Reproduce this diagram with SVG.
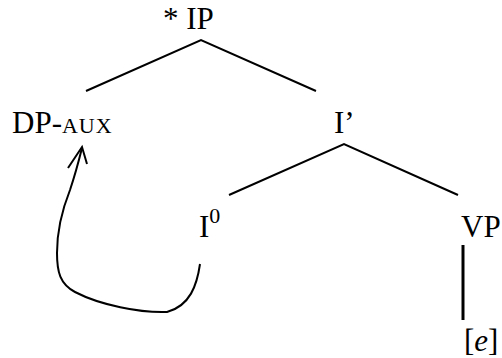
<svg xmlns="http://www.w3.org/2000/svg" width="502" height="358" viewBox="0 0 502 358">
<style>
text{font-family:"Liberation Serif","Times New Roman",serif;font-size:31px;fill:#000}
.sc{font-size:22px;letter-spacing:1px}
.e{stroke:#000;stroke-width:2;fill:none;stroke-linecap:butt}
</style>
<rect width="502" height="358" fill="#fff"/>
<g id="IP"><text x="163" y="29">* IP</text></g>
<g id="DP"><text x="12" y="133">DP-<tspan class="sc">AUX</tspan></text></g>
<g id="Ibar"><text x="334" y="133">I’</text></g>
<g id="I0"><text x="199" y="237">I<tspan font-size="22" dy="-14">0</tspan></text></g>
<g id="VP"><text x="461" y="237">VP</text></g>
<g id="e"><text x="464" y="351">[<tspan font-style="italic">e</tspan>]</text></g>
<g id="connectors">
<path class="e" d="M86 91 L201 40 L316 91"/>
<path class="e" d="M229 195 L344 144 L458 195"/>
<path d="M463 245 V320" stroke="#000" stroke-width="3"/>
<path class="e" d="M200 264 C197 285 190 306 167 312 C140 313 100 305 75 292 C60 284 57 272 57 253 C57 230 62 210 70 190 C75 175 79 160 82 148"/>
<path class="e" d="M68 168 L82 147 L87 164"/>
</g>
</svg>
